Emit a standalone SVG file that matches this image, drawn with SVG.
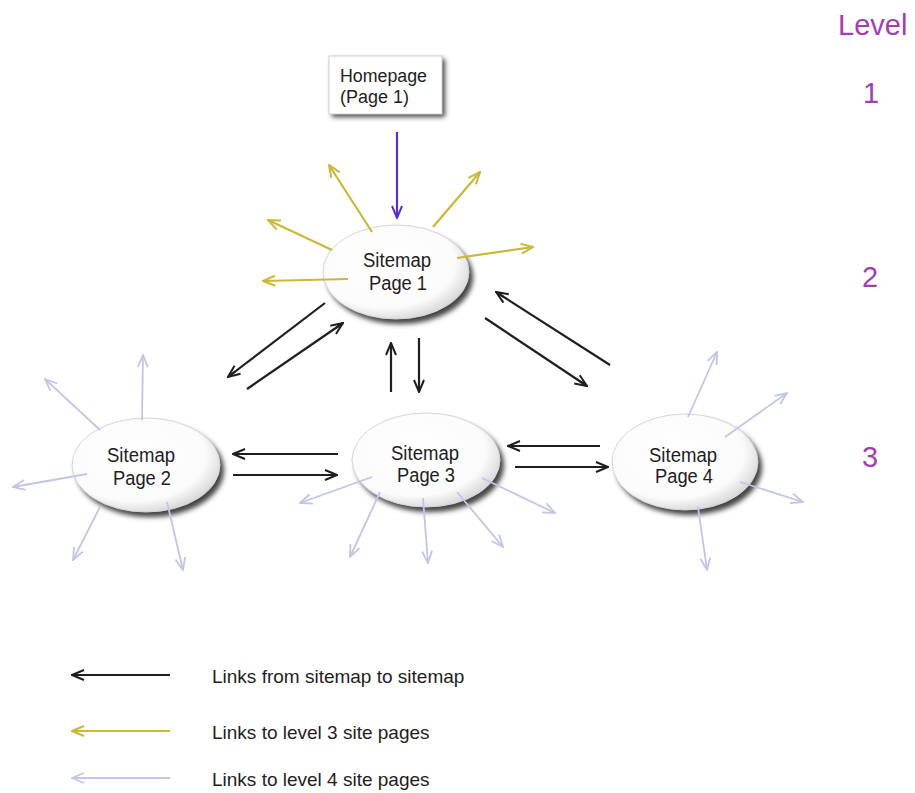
<svg xmlns="http://www.w3.org/2000/svg" width="915" height="793" viewBox="0 0 915 793">
<defs>
  <style>
    .lbl { font-family: "Liberation Sans", Arial, sans-serif; font-size: 20px; fill: #1e1e1e; }
    .hp { font-family: "Liberation Sans", Arial, sans-serif; font-size: 18px; fill: #1e1e1e; }
    .leg { font-family: "Liberation Sans", Arial, sans-serif; font-size: 19px; fill: #1e1e1e; }
    .lvl { font-family: "Liberation Sans", Arial, sans-serif; font-size: 29px; fill: #a23fb0; }
    .blk { stroke: #1f1f1f; stroke-width: 2.2; fill: none; marker-end: url(#mBlk); }
    .yel { stroke: #c9b83a; stroke-width: 2.2; fill: none; marker-end: url(#mYel); }
    .lav { stroke: #c4c4ea; stroke-width: 1.8; fill: none; marker-end: url(#mLav); }
    .pur { stroke: #5b2fd6; stroke-width: 2.2; fill: none; marker-end: url(#mPur); }
    .ell { fill: url(#gEll); stroke: #d6d6d6; stroke-width: 1; }
    .shd { fill: #444; filter: url(#fBlur); }
  </style>
  <radialGradient id="gEll" cx="0.42" cy="0.4" r="0.62">
    <stop offset="0" stop-color="#ffffff"/>
    <stop offset="0.78" stop-color="#fbfbfb"/>
    <stop offset="1" stop-color="#d9d9d9"/>
  </radialGradient>
  <filter id="fBlur" x="-20%" y="-20%" width="140%" height="140%">
    <feGaussianBlur stdDeviation="2.5"/>
  </filter>
  <marker id="mBlk" viewBox="0 0 14 12" refX="13" refY="6" markerWidth="14" markerHeight="12" markerUnits="userSpaceOnUse" orient="auto">
    <path d="M1,1 L13,6 L1,11 M4,6 L13,6" stroke="#1f1f1f" stroke-width="2" fill="none"/>
  </marker>
  <marker id="mYel" viewBox="0 0 14 12" refX="13" refY="6" markerWidth="14" markerHeight="12" markerUnits="userSpaceOnUse" orient="auto">
    <path d="M1,1 L13,6 L1,11" stroke="#c9b83a" stroke-width="2" fill="none"/>
  </marker>
  <marker id="mLav" viewBox="0 0 14 12" refX="13" refY="6" markerWidth="14" markerHeight="12" markerUnits="userSpaceOnUse" orient="auto">
    <path d="M1,1 L13,6 L1,11" stroke="#c4c4ea" stroke-width="1.8" fill="none"/>
  </marker>
  <marker id="mPur" viewBox="0 0 14 12" refX="13" refY="6" markerWidth="14" markerHeight="12" markerUnits="userSpaceOnUse" orient="auto">
    <path d="M1,1 L13,6 L1,11" stroke="#5b2fd6" stroke-width="2" fill="none"/>
  </marker>
</defs>
<rect width="915" height="793" fill="#ffffff"/>

<g id="homepage">
  <rect x="332" y="59" width="113" height="58" class="shd"/>
  <rect x="329" y="56" width="113" height="58" fill="#ffffff" stroke="#d0d0d0" stroke-width="1"/>
  <text class="hp" x="340" y="82" textLength="87" lengthAdjust="spacingAndGlyphs">Homepage</text>
  <text class="hp" x="340" y="103" textLength="69" lengthAdjust="spacingAndGlyphs">(Page 1)</text>
</g>

<g id="sitemap1">
  <ellipse cx="400" cy="277" rx="73" ry="47" class="shd"/>
  <ellipse cx="396" cy="272" rx="73" ry="47" class="ell"/>
  <text class="lbl" x="397" y="267" text-anchor="middle" textLength="68" lengthAdjust="spacingAndGlyphs">Sitemap</text>
  <text class="lbl" x="398" y="290" text-anchor="middle" textLength="58" lengthAdjust="spacingAndGlyphs">Page 1</text>
</g>

<g id="sitemap2">
  <ellipse cx="150" cy="470" rx="74" ry="47" class="shd"/>
  <ellipse cx="146" cy="465" rx="74" ry="47" class="ell"/>
  <text class="lbl" x="141" y="462" text-anchor="middle" textLength="68" lengthAdjust="spacingAndGlyphs">Sitemap</text>
  <text class="lbl" x="142" y="485" text-anchor="middle" textLength="58" lengthAdjust="spacingAndGlyphs">Page 2</text>
</g>

<g id="sitemap3">
  <ellipse cx="430" cy="465" rx="74" ry="47" class="shd"/>
  <ellipse cx="426" cy="460" rx="74" ry="47" class="ell"/>
  <text class="lbl" x="425" y="460" text-anchor="middle" textLength="68" lengthAdjust="spacingAndGlyphs">Sitemap</text>
  <text class="lbl" x="426" y="482" text-anchor="middle" textLength="58" lengthAdjust="spacingAndGlyphs">Page 3</text>
</g>

<g id="sitemap4">
  <ellipse cx="689" cy="467" rx="73" ry="48" class="shd"/>
  <ellipse cx="685" cy="462" rx="73" ry="48" class="ell"/>
  <text class="lbl" x="683" y="462" text-anchor="middle" textLength="68" lengthAdjust="spacingAndGlyphs">Sitemap</text>
  <text class="lbl" x="684" y="483" text-anchor="middle" textLength="58" lengthAdjust="spacingAndGlyphs">Page 4</text>
</g>

<g id="connectors">
  <line class="pur" x1="397" y1="132" x2="397" y2="218"/>

  <line class="yel" x1="372" y1="232" x2="329" y2="165"/>
  <line class="yel" x1="433" y1="227" x2="480" y2="172"/>
  <line class="yel" x1="332" y1="250" x2="268" y2="220"/>
  <line class="yel" x1="348" y1="279" x2="263" y2="281"/>
  <line class="yel" x1="457" y1="258" x2="533" y2="247"/>

  <line class="blk" x1="325" y1="303" x2="228" y2="377"/>
  <line class="blk" x1="247" y1="389" x2="343" y2="323"/>
  <line class="blk" x1="391" y1="392" x2="391" y2="343"/>
  <line class="blk" x1="419" y1="338" x2="419" y2="392"/>
  <line class="blk" x1="610" y1="365" x2="496" y2="292"/>
  <line class="blk" x1="485" y1="318" x2="587" y2="386"/>
  <line class="blk" x1="338" y1="454" x2="233" y2="454"/>
  <line class="blk" x1="233" y1="475" x2="337" y2="475"/>
  <line class="blk" x1="600" y1="446" x2="508" y2="446"/>
  <line class="blk" x1="515" y1="467" x2="608" y2="467"/>

  <line class="lav" x1="142" y1="420" x2="143" y2="355"/>
  <line class="lav" x1="100" y1="430" x2="45" y2="379"/>
  <line class="lav" x1="87" y1="474" x2="13" y2="487"/>
  <line class="lav" x1="100" y1="507" x2="73" y2="560"/>
  <line class="lav" x1="167" y1="502" x2="183" y2="570"/>

  <line class="lav" x1="372" y1="477" x2="300" y2="503"/>
  <line class="lav" x1="380" y1="492" x2="350" y2="557"/>
  <line class="lav" x1="423" y1="498" x2="428" y2="563"/>
  <line class="lav" x1="457" y1="492" x2="503" y2="547"/>
  <line class="lav" x1="482" y1="478" x2="555" y2="513"/>

  <line class="lav" x1="688" y1="417" x2="717" y2="352"/>
  <line class="lav" x1="725" y1="437" x2="787" y2="393"/>
  <line class="lav" x1="740" y1="482" x2="803" y2="502"/>
  <line class="lav" x1="698" y1="507" x2="707" y2="570"/>
</g>

<g id="levels">
  <text class="lvl" x="838" y="35" font-size="30">Level</text>
  <text class="lvl" x="871" y="103" text-anchor="middle">1</text>
  <text class="lvl" x="870" y="287" text-anchor="middle">2</text>
  <text class="lvl" x="870" y="467" text-anchor="middle">3</text>
</g>

<g id="legend">
  <line class="blk" x1="170" y1="675" x2="72" y2="675"/>
  <text class="leg" x="212" y="683">Links from sitemap to sitemap</text>
  <line class="yel" x1="170" y1="731" x2="72" y2="731"/>
  <text class="leg" x="212" y="739">Links to level 3 site pages</text>
  <line class="lav" x1="170" y1="778" x2="72" y2="778"/>
  <text class="leg" x="212" y="786">Links to level 4 site pages</text>
</g>
</svg>
